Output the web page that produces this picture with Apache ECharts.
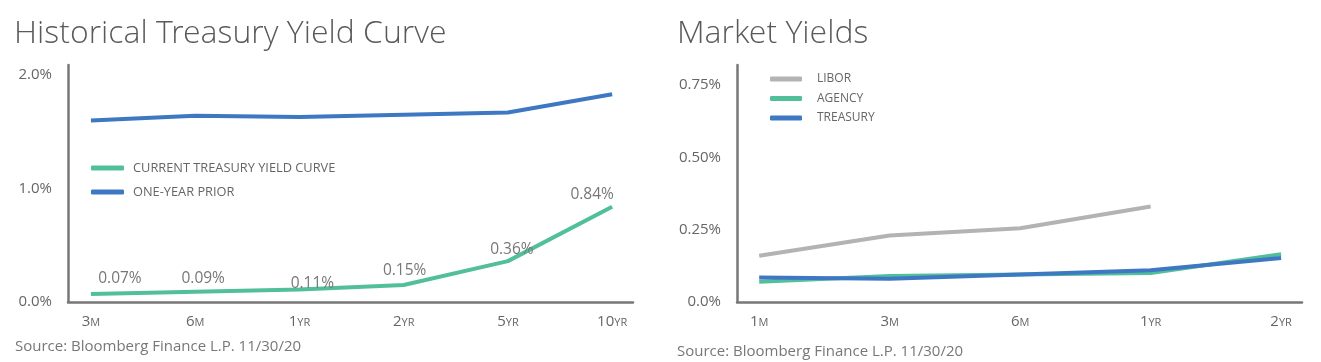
<!DOCTYPE html>
<html>
<head>
<meta charset="utf-8">
<script src="https://cdn.jsdelivr.net/npm/echarts@6/dist/echarts.min.js"></script>
<style>
  html, body { margin: 0; padding: 0; background: #fff; }
  #chart { width: 1321px; height: 362px; }
</style>
</head>
<body>
<div id="chart"></div>
<script>
// ---- Data ----
const leftCategories = ['3M', '6M', '1YR', '2YR', '5YR', '10YR'];
const currentCurve = [0.07, 0.09, 0.11, 0.15, 0.36, 0.84];
const priorCurve = [1.60, 1.64, 1.63, 1.65, 1.67, 1.83];
const leftYTicks = [0, 1, 2];

const rightCategories = ['1M', '3M', '6M', '1YR', '2YR'];
const libor = [0.16, 0.23, 0.255, 0.33, null];
const agency = [0.07, 0.09, 0.095, 0.10, 0.165];
const treasury = [0.085, 0.08, 0.095, 0.11, 0.152];
const rightYTicks = [0, 0.25, 0.5, 0.75];

const leftTitle = 'Historical Treasury Yield Curve';
const rightTitle = 'Market Yields';
const sourceText = 'Source: Bloomberg Finance L.P. 11/30/20';

// ---- Styling ----
const FONT = 'Open Sans';
const TITLE_FONT = '"Open Sans Light", "Lato Light", "Open Sans"';
const GREEN = '#52bf9c';
const BLUE = '#3e78c3';
const GRAY = '#b3b3b3';
const AXIS = '#777777';
const labelNudge = [[29, -2], [8, 0], [13, 7], [1, -1], [4, 1], [-20, 1]];

function toPairs(arr) {
  const out = [];
  arr.forEach((v, i) => { if (v !== null) out.push([i, v]); });
  return out;
}
function catFormatter(cats) {
  return function (v) {
    const i = Math.round(v);
    if (Math.abs(v - i) > 1e-6 || i < 0 || i >= cats.length) return '';
    const m = cats[i].match(/^(\d+)(\D+)$/);
    return '{n|' + m[1] + '}{u|' + m[2] + '}';
  };
}
const catRich = {
  n: { fontFamily: FONT, fontSize: 15, color: '#666' },
  u: { fontFamily: FONT, fontSize: 11, color: '#666', padding: [3, 0, 0, 0] }
};
function xAxisFor(gridIndex, cats, min, max) {
  return {
    type: 'value', gridIndex, min, max,
    axisLine: { show: true, onZero: false, lineStyle: { color: AXIS, width: 2.5 } },
    axisTick: { show: false },
    splitLine: { show: false },
    axisLabel: {
      customValues: cats.map((c, i) => i),
      formatter: catFormatter(cats),
      rich: catRich, margin: 12
    }
  };
}
function yAxisFor(gridIndex, ticks, max, fmt) {
  return {
    type: 'value', gridIndex, min: 0, max,
    axisLine: { show: true, onZero: false, lineStyle: { color: AXIS, width: 2.5 } },
    axisTick: { show: false },
    splitLine: { show: false },
    axisLabel: {
      customValues: ticks,
      formatter: v => ticks.some(t => Math.abs(t - v) < 1e-9) ? fmt(v) : '',
      fontFamily: FONT, fontSize: 15, color: '#666', margin: 16
    }
  };
}
function lineSeries(name, color, data, xi, yi, extra) {
  return Object.assign({
    name, type: 'line', xAxisIndex: xi, yAxisIndex: yi,
    data: toPairs(data), showSymbol: false, symbol: 'none',
    lineStyle: { color, width: 4 }, itemStyle: { color },
    emphasis: { disabled: true }
  }, extra || {});
}

const currentSeries = lineSeries('CURRENT TREASURY YIELD CURVE', GREEN, currentCurve, 0, 0, {
  z: 3,
  showSymbol: true, symbol: 'circle', symbolSize: 0,
  data: currentCurve.map((v, i) => ({
    value: [i, v],
    label: { offset: labelNudge[i] }
  })),
  label: {
    show: true, position: 'top', distance: 5,
    formatter: p => p.value[1].toFixed(2) + '%',
    fontFamily: FONT, fontSize: 15.5, color: '#777'
  }
});

const option = {
  animation: false,
  backgroundColor: '#fff',
  title: [
    { text: leftTitle, left: 9, top: 9, textStyle: { fontFamily: TITLE_FONT, fontSize: 32, fontWeight: 300, color: '#5a5a5a', lineHeight: 42 } },
    { text: rightTitle, left: 672, top: 9, textStyle: { fontFamily: TITLE_FONT, fontSize: 32, fontWeight: 300, color: '#5a5a5a', lineHeight: 42 } }
  ],
  grid: [
    { left: 68, top: 65, width: 565, height: 237 },
    { left: 737, top: 65, width: 565, height: 237 }
  ],
  xAxis: [
    xAxisFor(0, leftCategories, -0.22, 5.2),
    xAxisFor(1, rightCategories, -0.17, 4.16)
  ],
  yAxis: [
    yAxisFor(0, leftYTicks, 2.088, v => v.toFixed(1) + '%'),
    yAxisFor(1, rightYTicks, 0.819, v => v === 0 ? '0.0%' : v.toFixed(2) + '%')
  ],
  legend: [
    {
      data: ['CURRENT TREASURY YIELD CURVE', 'ONE-YEAR PRIOR'],
      left: 91, top: 161, orient: 'vertical', itemGap: 10, padding: 0,
      itemWidth: 33, itemHeight: 5, icon: 'roundRect',
      textStyle: { fontFamily: FONT, fontSize: 12.8, color: '#666', lineHeight: 14, padding: [0, 0, 0, 4] },
      selectedMode: false
    },
    {
      data: ['LIBOR', 'AGENCY', 'TREASURY'],
      left: 770, top: 72, orient: 'vertical', itemGap: 5.5, padding: 0,
      itemWidth: 32, itemHeight: 5, icon: 'roundRect',
      textStyle: { fontFamily: FONT, fontSize: 12, color: '#666', lineHeight: 14, padding: [0, 0, 0, 10] },
      selectedMode: false
    }
  ],
  graphic: [
    { type: 'text', left: 15, top: 339, style: { text: sourceText, font: '15px "Open Sans"', fill: '#777' } },
    { type: 'text', left: 677, top: 344, style: { text: sourceText, font: '15px "Open Sans"', fill: '#777' } }
  ],
  series: [
    currentSeries,
    lineSeries('ONE-YEAR PRIOR', BLUE, priorCurve, 0, 0),
    lineSeries('LIBOR', GRAY, libor, 1, 1),
    lineSeries('AGENCY', GREEN, agency, 1, 1),
    lineSeries('TREASURY', BLUE, treasury, 1, 1)
  ]
};

const chart = echarts.init(document.getElementById('chart'), null, { renderer: 'canvas' });
chart.setOption(option);
</script>
</body>
</html>
